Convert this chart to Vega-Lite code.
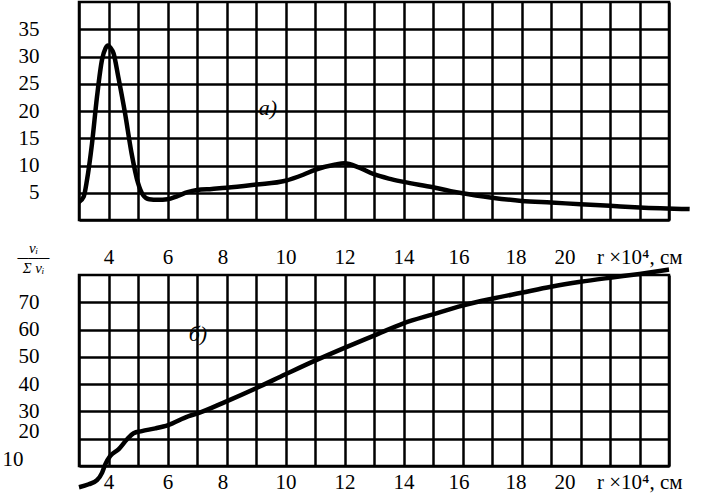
{
  "$schema": "https://vega.github.io/schema/vega-lite/v6.json",
  "padding": {"left": 0, "top": 0, "right": 0, "bottom": 0},
  "background": "white",
  "bounds": "flush",
  "spacing": 55,
  "config": {
    "font": "Liberation Serif",
    "view": {"stroke": "black", "strokeWidth": 2.5},
    "axis": {
      "grid": true, "gridColor": "black", "gridWidth": 2.5, "gridOpacity": 1,
      "domain": false, "ticks": false,
      "labelFont": "Liberation Serif", "labelFontSize": 21, "labelColor": "black",
      "labelOverlap": false, "labelBound": false, "labelFlush": false,
      "title": null
    }
  },
  "datasets": {
    "a": [
      {"r": 3.0, "v": 3.3}, {"r": 3.16, "v": 4.3}, {"r": 3.27, "v": 7.3}, {"r": 3.44, "v": 14},
      {"r": 3.61, "v": 22.6}, {"r": 3.78, "v": 29.4}, {"r": 3.9, "v": 31.5}, {"r": 3.98, "v": 32},
      {"r": 4.07, "v": 31.6}, {"r": 4.17, "v": 30.6}, {"r": 4.33, "v": 26.3}, {"r": 4.56, "v": 19.6},
      {"r": 4.78, "v": 12.3}, {"r": 5.0, "v": 6.8}, {"r": 5.17, "v": 4.6}, {"r": 5.38, "v": 3.8},
      {"r": 5.67, "v": 3.7}, {"r": 6.0, "v": 3.8}, {"r": 6.34, "v": 4.4}, {"r": 6.68, "v": 5.1},
      {"r": 7.0, "v": 5.5}, {"r": 7.5, "v": 5.7}, {"r": 8, "v": 5.9}, {"r": 9, "v": 6.5},
      {"r": 10, "v": 7.2}, {"r": 10.6, "v": 8.3}, {"r": 11, "v": 9.2}, {"r": 11.7, "v": 10.2},
      {"r": 12, "v": 10.4}, {"r": 12.5, "v": 9.6}, {"r": 13, "v": 8.4}, {"r": 13.5, "v": 7.6},
      {"r": 14, "v": 7.0}, {"r": 15, "v": 6.0}, {"r": 15.6, "v": 5.3}, {"r": 16, "v": 4.9},
      {"r": 17, "v": 4.1}, {"r": 18, "v": 3.5}, {"r": 19, "v": 3.2}, {"r": 20, "v": 2.9},
      {"r": 21, "v": 2.6}, {"r": 22, "v": 2.3}, {"r": 23.7, "v": 2.0}
    ],
    "b": [
      {"r": 3.0, "v": 2.2}, {"r": 3.33, "v": 3.3}, {"r": 3.61, "v": 4.8}, {"r": 3.78, "v": 7.5},
      {"r": 3.89, "v": 10.6}, {"r": 4.06, "v": 13.7}, {"r": 4.34, "v": 16.1}, {"r": 4.63, "v": 19.8},
      {"r": 4.85, "v": 22}, {"r": 5.13, "v": 22.8}, {"r": 5.59, "v": 23.8}, {"r": 6.02, "v": 25},
      {"r": 6.72, "v": 28.3}, {"r": 7, "v": 29.2}, {"r": 8, "v": 33.7}, {"r": 9, "v": 38.5},
      {"r": 10, "v": 43.6}, {"r": 11, "v": 48.6}, {"r": 12, "v": 53.3}, {"r": 13, "v": 57.8},
      {"r": 14, "v": 62.3}, {"r": 15, "v": 65.6}, {"r": 16, "v": 68.8}, {"r": 17, "v": 71.3},
      {"r": 18, "v": 73.5}, {"r": 19, "v": 75.7}, {"r": 20, "v": 77.5}, {"r": 21, "v": 79},
      {"r": 22, "v": 80.4}, {"r": 23, "v": 82}
    ],
    "la": [{"r": 9.4, "v": 20.5, "t": "а)"}],
    "lb": [{"r": 7.03, "v": 58.2, "t": "б)"}]
  },
  "vconcat": [
    {
      "width": 590,
      "height": 218,
      "encoding": {
        "x": {
          "field": "r", "type": "quantitative",
          "scale": {"domain": [3, 23], "nice": false, "zero": false},
          "axis": {
            "values": [3,4,5,6,7,8,9,10,11,12,13,14,15,16,17,18,19,20,21,22,23],
            "labelExpr": "datum.value % 2 == 0 && datum.value <= 20 ? datum.label : (datum.value == 22 ? 'r ×10⁴, см' : '')",
            "labelPadding": 26,
            "labelAlign": {"condition": {"test": "datum.value == 22", "value": "left"}, "value": "center"},
            "labelOffset": {"condition": [
              {"test": "datum.value == 22", "value": -43},
              {"test": "datum.value == 20", "value": -16},
              {"test": "datum.value == 18", "value": -6},
              {"test": "datum.value == 16 || datum.value == 8", "value": -4}
            ], "value": 0}
          }
        },
        "y": {
          "field": "v", "type": "quantitative",
          "scale": {"domain": [0, 40], "nice": false, "zero": false},
          "axis": {
            "values": [0,5,10,15,20,25,30,35],
            "labelExpr": "datum.value > 0 ? datum.label : ''",
            "labelPadding": 40
          }
        }
      },
      "layer": [
        {
          "data": {"name": "a"},
          "mark": {"type": "line", "interpolate": "monotone", "color": "black", "strokeWidth": 4.5, "clip": false}
        },
        {
          "data": {"name": "la"},
          "mark": {"type": "text", "fontStyle": "italic", "fontSize": 22, "font": "Liberation Serif", "color": "black"},
          "encoding": {"text": {"field": "t"}}
        }
      ]
    },
    {
      "width": 590,
      "height": 191,
      "encoding": {
        "x": {
          "field": "r", "type": "quantitative",
          "scale": {"domain": [3, 23], "nice": false, "zero": false},
          "axis": {
            "values": [3,4,5,6,7,8,9,10,11,12,13,14,15,16,17,18,19,20,21,22,23],
            "labelExpr": "datum.value % 2 == 0 && datum.value <= 20 ? datum.label : (datum.value == 22 ? 'r ×10⁴, см' : '')",
            "labelPadding": 5,
            "labelAlign": {"condition": {"test": "datum.value == 22", "value": "left"}, "value": "center"},
            "labelOffset": {"condition": [
              {"test": "datum.value == 22", "value": -43},
              {"test": "datum.value == 20", "value": -16},
              {"test": "datum.value == 18", "value": -6},
              {"test": "datum.value == 16 || datum.value == 8", "value": -4}
            ], "value": 0}
          }
        },
        "y": {
          "field": "v", "type": "quantitative",
          "scale": {"domain": [10, 80], "nice": false, "zero": false},
          "axis": {
            "values": [10,20,30,40,50,60,70],
            "labelPadding": {"condition": {"test": "datum.value == 10", "value": 56}, "value": 40},
            "labelOffset": {"condition": {"test": "datum.value <= 20", "value": -7}, "value": 0},
            "title": ["vᵢ", "───", "Σ vᵢ"],
            "titleFont": "Liberation Serif",
            "titleFontSize": 15,
            "titleFontStyle": "italic",
            "titleFontWeight": "normal",
            "titleColor": "black",
            "titleAngle": 0,
            "titleAlign": "center",
            "titleBaseline": "top",
            "titleLineHeight": 10,
            "titleX": -46,
            "titleY": -35
          }
        }
      },
      "layer": [
        {
          "data": {"name": "b"},
          "mark": {"type": "line", "interpolate": "monotone", "color": "black", "strokeWidth": 4.5, "clip": false}
        },
        {
          "data": {"name": "lb"},
          "mark": {"type": "text", "fontStyle": "italic", "fontSize": 22, "font": "Liberation Serif", "color": "black"},
          "encoding": {"text": {"field": "t"}}
        }
      ]
    }
  ]
}
